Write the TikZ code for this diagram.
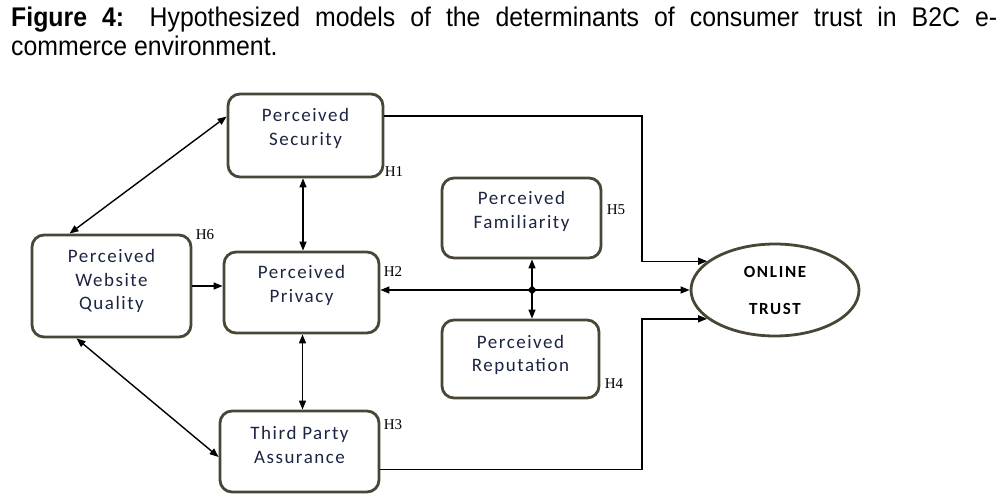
\documentclass[tikz,border=0pt]{standalone}
\usepackage{fontspec}
\setmainfont{Liberation Sans}
\newfontfamily\titlefont[FakeStretch=0.92]{Liberation Sans}
\newfontfamily\boxfont[LetterSpace=8]{Carlito}
\newfontfamily\trustfont[LetterSpace=10]{Carlito}
\newfontfamily\hfont{Liberation Serif}
\usetikzlibrary{arrows.meta,shapes.geometric}
\definecolor{boxc}{HTML}{4A4636}
\definecolor{txtc}{HTML}{1C2541}
\begin{document}
\begin{tikzpicture}[x=1pt,y=-1pt,
 box/.style={draw=boxc, line width=2.8pt, rounded corners=12pt, fill=white, inner sep=0pt},
 lbl/.style={font=\boxfont\fontsize{19}{23.5}\selectfont, text=txtc, align=center, inner sep=0pt},
 hyp/.style={font=\hfont\fontsize{15}{17}\selectfont, inner sep=0pt},
 arr/.style={-{Triangle[length=9pt,width=7pt]}, line width=1.4pt},
 darr/.style={{Triangle[length=9pt,width=7pt]}-{Triangle[length=9pt,width=7pt]}, line width=1.4pt}]
\useasboundingbox (0,0) rectangle (1007,501);

% title
\node[anchor=base west, inner sep=0pt, font=\titlefont\fontsize{27}{29}\selectfont] (title1) at (11,26)
  {\makebox[986pt][s]{\textbf{Figure 4:} Hypothesized models of the determinants of consumer trust in B2C e-}};
\node[anchor=base west, inner sep=0pt, font=\titlefont\fontsize{27}{29}\selectfont] (title2) at (11,55)
  {commerce environment.};

% boxes
\node[box, minimum width=155pt, minimum height=83pt] (sec) at (305.5,135.5) {};
\node[box, minimum width=159pt, minimum height=102pt] (web) at (111.5,286) {};
\node[box, minimum width=155pt, minimum height=81pt] (priv) at (301.5,292.5) {};
\node[box, minimum width=159pt, minimum height=80pt] (fam) at (521.5,218) {};
\node[box, minimum width=157pt, minimum height=78pt] (rep) at (520.5,359) {};
\node[box, minimum width=159pt, minimum height=81pt] (tpa) at (299.5,451.5) {};
\node[ellipse, draw=boxc, line width=2.8pt, fill=white, minimum width=168pt, minimum height=92pt,
      inner sep=0pt, align=center, font=\trustfont\bfseries\fontsize{17}{20}\selectfont] (trust) at (775,290)
  {ONLINE\\[17pt]TRUST};

% box texts
\node[lbl] (secT) at ([yshift=7pt]sec.center) {Perceived\\Security};
\node[lbl] (webT) at ([yshift=5pt]web.center) {Perceived\\Website\\Quality};
\node[lbl] (privT) at ([yshift=7pt]priv.center) {Perceived\\Privacy};
\node[lbl] (famT) at ([yshift=6.5pt]fam.center) {Perceived\\Familiarity};
\node[lbl] (repT) at ([yshift=4pt]rep.center) {Perceived\\Reputation};
\node[lbl] (tpaT) at ([yshift=6.5pt]tpa.center) {Third Party\\Assurance};

% hypothesis labels
\node[hyp] (h1) at (394,172) {H1};
\node[hyp] (h2) at (393,272) {H2};
\node[hyp] (h3) at (393,425) {H3};
\node[hyp] (h4) at (614,384) {H4};
\node[hyp] (h5) at (616,210) {H5};
\node[hyp] (h6) at (205,235) {H6};

% connectors
\coordinate (bendx) at (642,0);
\coordinate (secO) at ([yshift=19.5pt]sec.east);
\draw[arr] (secO) -- (secO -| bendx) |- (trust.157);
\coordinate (tpaO) at ([yshift=-18pt]tpa.east);
\draw[arr] (tpaO) -- (tpaO -| bendx) |- (trust.203);
\draw[darr] (trust.west -| priv.east) -- (trust.west);

\coordinate (jx) at (532,0);
\coordinate (J) at (trust.west -| jx);
\draw[darr] (fam.south -| J) -- (rep.north -| J);
\fill (J) ++(-4.5,0) -- ++(4.5,-4.5) -- ++(4.5,4.5) -- ++(-4.5,4.5) -- cycle;

\draw[arr] (web.east) -- (web.east -| priv.west);
\draw[darr] ([xshift=-42pt]web.north) -- ([yshift=19pt]sec.west);
\draw[darr] ([xshift=-35pt]web.south) -- ([yshift=-5.5pt]tpa.west);
\coordinate (sp) at ([xshift=-2.5pt]sec.south);
\draw[darr] (sp) -- (sp |- priv.north);
\coordinate (pb) at ([xshift=1pt]priv.south);
\draw[darr] (pb) -- (pb |- tpa.north);
\end{tikzpicture}
\end{document}
